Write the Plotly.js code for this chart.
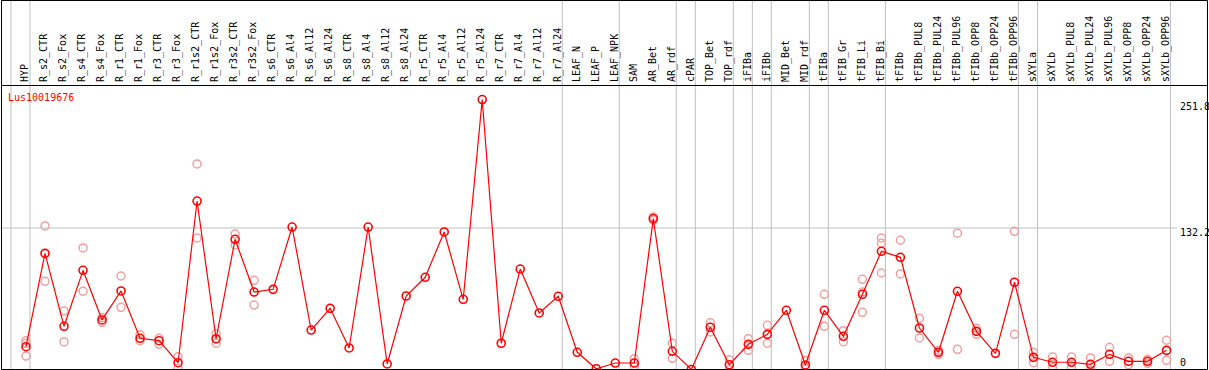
<!DOCTYPE html>
<html>
<head>
<meta charset="utf-8">
<script src="https://cdn.plot.ly/plotly-3.0.1.min.js"></script>
<style>
html,body{margin:0;padding:0;background:#fff;}
#chart{width:1209px;height:370px;}
</style>
</head>
<body>
<div id="chart"></div>
<script>
const geneName = "Lus10019676";

const categories = [
  "HYP",
  "R_s2_CTR","R_s2_Fox","R_s4_CTR","R_s4_Fox","R_r1_CTR","R_r1_Fox","R_r3_CTR","R_r3_Fox",
  "R_r1s2_CTR","R_r1s2_Fox","R_r3s2_CTR","R_r3s2_Fox",
  "R_s6_CTR","R_s6_Al4","R_s6_Al12","R_s6_Al24",
  "R_s8_CTR","R_s8_Al4","R_s8_Al12","R_s8_Al24",
  "R_r5_CTR","R_r5_Al4","R_r5_Al12","R_r5_Al24",
  "R_r7_CTR","R_r7_Al4","R_r7_Al12","R_r7_Al24",
  "LEAF_N","LEAF_P","LEAF_NPK",
  "SAM","AR_Bet","AR_rdf",
  "cPAR",
  "TOP_Bet","TOP_rdf",
  "iFIBa",
  "iFIBb",
  "MID_Bet","MID_rdf",
  "tFIBa",
  "tFIB_Gr","tFIB_Li","tFIB_Bi",
  "tFIBb","tFIBb_PUL8","tFIBb_PUL24","tFIBb_PUL96","tFIBb_OPP8","tFIBb_OPP24","tFIBb_OPP96",
  "sXYLa",
  "sXYLb","sXYLb_PUL8","sXYLb_PUL24","sXYLb_PUL96","sXYLb_OPP8","sXYLb_OPP24","sXYLb_OPP96"
];

// sizes of the sample groups separated by vertical lines
const groupSizes = [1, 28, 3, 3, 1, 2, 1, 1, 2, 1, 3, 7, 1, 7];

const meanValues = [
  21.7,
  108.6, 40.7, 92.8, 46.6, 73.6, 29.5, 27.3, 6.8,
  157.3, 29.1, 121.7, 72.6,
  75.1, 133.1, 37.2, 57.4,
  20.5, 133.1, 5.6, 68.9,
  86.3, 128.5, 65.8, 251.8,
  24.9, 94.0, 53.1, 68.6,
  16.5, 1.2, 6.5,
  6.5, 141.0, 17.4,
  0.5,
  39.8, 4.9,
  23.9,
  33.2,
  55.6, 4.7,
  55.6,
  31.4, 70.5, 110.5,
  104.9, 39.1, 16.5, 73.3, 36.0, 15.5, 81.7,
  11.8,
  7.2, 7.2, 5.3, 14.6, 8.1, 8.1, 18.3
];

const rep1Values = [
  27.3,
  134.1, 54.9, 113.6, 48.7, 87.5, 32.9, 29.5, 12.4,
  191.8, 33.8, 126.6, 83.5,
  null, null, null, null,
  null, null, null, null,
  null, null, null, null,
  null, null, null, null,
  null, null, null,
  10.5, 142.5, 24.9,
  null,
  44.0, 9.6,
  29.1,
  41.6,
  null, 8.7,
  70.5,
  36.6, 84.4, 122.9,
  120.8, 48.1, 18.3, 127.3, 38.8, null, 129.1,
  16.5,
  12.1, 12.1, 11.2, 21.1, 11.2, 10.0, 27.7
];

const rep2Values = [
  13.0,
  82.6, 26.1, 73.3, 44.4, 58.4, 27.3, 23.9, 1.6,
  122.9, 24.9, 116.4, 60.5,
  null, null, null, null,
  null, null, null, null,
  null, null, null, null,
  null, null, null, null,
  null, null, null,
  3.1, 139.5, 10.9,
  null,
  35.4, 0.2,
  18.3,
  24.9,
  null, 1.2,
  40.7,
  26.3, 53.7, 90.3,
  89.4, 29.8, 14.6, 19.3, 33.2, null, 33.2,
  6.8,
  2.1, 2.1, 0.0, 8.1, 4.9, 6.2, 9.0
];

const rep3Values = [
  24.8,
  null, null, null, null, null, null, null, null,
  null, null, null, null,
  null, null, null, null,
  null, null, null, null,
  null, null, null, null,
  null, null, null, null,
  null, null, null,
  null, null, null,
  null,
  null, null,
  null,
  null,
  null, null,
  null,
  null, 72.6, 118.0,
  null, null, null, null, null, null, null,
  null,
  null, null, null, null, null, null, null
];

const yTickValues = [0, 132.2, 251.8];
const yTickLabels = ["0", "132.2", "251.8"];
const yTop = 264.4;

const mono = "DejaVu Sans Mono, Liberation Mono, monospace";
const lightRed = "#f0a0a0";

const repMarker = {symbol: "circle-open", size: 8, color: lightRed, line: {width: 1.5, color: lightRed}};

const traces = [rep1Values, rep2Values, rep3Values].map(v => ({
  type: "scatter", mode: "markers", x: categories, y: v,
  marker: repMarker, hoverinfo: "skip", showlegend: false
}));
traces.push({
  type: "scatter", mode: "lines+markers", x: categories, y: meanValues,
  line: {color: "#ff0000", width: 1.2},
  marker: {symbol: "circle-open", size: 8, color: "#ff0000", line: {width: 1.6, color: "#ff0000"}},
  showlegend: false
});

// plot area geometry
const W = 1209, H = 370;
const mL = 2, mR = 32, mT = 86, mB = 0;
const plotW = W - mL - mR, plotH = H - mT - mB;
const xRange = [-1.2625, 60.55];
const paperTop = 1 + mT / plotH;
const pxToPaperX = px => (px - mL) / plotW;
const pxToPaperY = py => (H - mB - py) / plotH;

const shapes = [];
// group separators
let cum = -1;
const bounds = [cum];
groupSizes.forEach(s => { cum += s; bounds.push(cum); });
bounds.forEach(b => {
  const xp = (b + 0.21 - xRange[0]) / (xRange[1] - xRange[0]);
  shapes.push({type: "line", xref: "paper", yref: "paper", x0: xp, x1: xp, y0: 0, y1: paperTop,
    line: {color: "#c0c0c0", width: 1}, layer: "below"});
});
// middle gridline
shapes.push({type: "line", xref: "paper", yref: "y", x0: pxToPaperX(0.5), x1: 1, y0: yTickValues[1], y1: yTickValues[1],
  line: {color: "#c0c0c0", width: 1}, layer: "below"});
// frame
const fx0 = pxToPaperX(1.5), fx1 = pxToPaperX(1207.5);
const fy0 = pxToPaperY(369.5), fyTop = pxToPaperY(0.5), fySep = pxToPaperY(85.5);
[[fx0, fyTop, fx1, fyTop], [fx0, fySep, fx1, fySep], [fx0, fy0, fx1, fy0],
 [fx0, fy0, fx0, fyTop], [fx1, fy0, fx1, fyTop]].forEach(([a, b, c, d]) => {
  shapes.push({type: "line", xref: "paper", yref: "paper", x0: a, y0: b, x1: c, y1: d,
    line: {color: "#000000", width: 1}});
});

const tickShifts = [8, -4, -7];
const annotations = yTickValues.map((v, i) => ({
  xref: "paper", yref: "y", x: pxToPaperX(1178), y: v, xanchor: "left", yanchor: "middle",
  text: yTickLabels[i], showarrow: false, yshift: tickShifts[i],
  font: {family: mono, size: 10, color: "#000"}
}));

const layout = {
  width: W, height: H,
  margin: {l: mL, r: mR, t: mT, b: mB, pad: 0},
  paper_bgcolor: "#ffffff", plot_bgcolor: "#ffffff",
  title: {text: geneName, x: 8 / W, xanchor: "left", xref: "container",
    y: 1 - 97 / H, yanchor: "middle", yref: "container",
    font: {family: mono, size: 10, color: "#ff0000"}},
  xaxis: {type: "category", range: xRange, side: "top", tickangle: -90,
    tickfont: {family: mono, size: 10, color: "#000"},
    ticks: "", ticklabelstandoff: 3, ticklabelshift: -1,
    showgrid: false, zeroline: false, showline: false, fixedrange: true,
    automargin: false},
  yaxis: {range: [0, yTop], showgrid: false, zeroline: false, showline: false,
    showticklabels: false, ticks: "", fixedrange: true},
  shapes: shapes,
  annotations: annotations,
  showlegend: false
};

Plotly.newPlot("chart", traces, layout, {displayModeBar: false, staticPlot: true});
</script>
</body>
</html>
